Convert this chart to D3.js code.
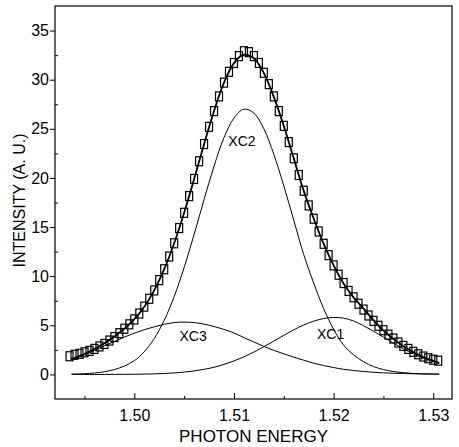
<!DOCTYPE html>
<html><head><meta charset="utf-8">
<script src="https://cdn.jsdelivr.net/npm/d3@7"></script>
<style>
body{margin:0;background:#fff;}
text{font-family:"Liberation Sans",Arial,sans-serif;fill:#000;}
</style></head>
<body><svg id="c" width="459" height="447"></svg>
<script>
// component grid (photon energy)
const compX = [1.4937,1.495,1.496,1.497,1.498,1.499,1.500,1.501,1.502,1.503,1.504,1.505,1.506,1.507,1.508,1.509,1.510,1.511,1.512,1.513,1.514,1.515,1.516,1.517,1.518,1.519,1.520,1.521,1.522,1.523,1.524,1.525,1.526,1.527,1.528,1.529,1.530,1.5306];
const xc1 = [0,0,0,0,0.01,0.01,0.02,0.035,0.06,0.1,0.15,0.24,0.35,0.52,0.73,1.02,1.37,1.79,2.28,2.82,3.40,3.98,4.54,5.03,5.42,5.69,5.8,5.73,5.44,4.96,4.4,3.8,3.2,2.6,2.1,1.65,1.3,1.1];
const xc2 = [0.03,0.08,0.15,0.27,0.5,0.85,1.4,2.31,3.65,5.51,7.93,10.89,14.25,17.8,21.2,24.1,26.1,27.0,26.6,25.0,22.4,19.2,15.7,12.2,9.3,6.7,4.6,3.0,2.0,1.3,0.8,0.5,0.3,0.18,0.1,0.06,0.04,0.03];
const xc3 = [1.55,2.0,2.45,2.9,3.35,3.8,4.2,4.55,4.85,5.1,5.28,5.33,5.28,5.12,4.88,4.58,4.22,3.75,3.3,2.85,2.45,2.1,1.75,1.45,1.15,0.9,0.7,0.52,0.4,0.3,0.22,0.16,0.12,0.09,0.07,0.05,0.04,0.03];
const fit = [1.58,2.08,2.60,3.17,3.86,4.66,5.62,6.90,8.56,10.71,13.36,16.46,19.88,23.44,26.81,29.70,31.69,32.54,32.18,30.67,28.25,25.28,21.99,18.68,15.87,13.29,11.10,9.25,7.84,6.70,5.52,4.46,3.62,2.87,2.27,1.76,1.38,1.16];
// measured data points
const dataX = [1.4935,1.4940,1.4945,1.4950,1.4955,1.4960,1.4965,1.4970,1.4975,1.4980,1.4985,1.4990,1.4995,1.5000,1.5005,1.5010,1.5015,1.5020,1.5025,1.5030,1.5035,1.5040,1.5045,1.5050,1.5055,1.5060,1.5065,1.5070,1.5075,1.5080,1.5085,1.5090,1.5095,1.5100,1.5105,1.5110,1.5115,1.5120,1.5125,1.5130,1.5135,1.5140,1.5145,1.5150,1.5155,1.5160,1.5165,1.5170,1.5175,1.5180,1.5185,1.5190,1.5195,1.5200,1.5205,1.5210,1.5215,1.5220,1.5225,1.5230,1.5235,1.5240,1.5245,1.5250,1.5255,1.5260,1.5265,1.5270,1.5275,1.5280,1.5285,1.5290,1.5295,1.5300,1.5305];
const dataY = [1.85,2.0,2.1,2.25,2.4,2.6,2.85,3.1,3.45,3.8,4.2,4.65,5.1,5.6,6.2,6.9,7.7,8.55,9.6,10.7,12.0,13.35,14.9,16.45,18.15,19.9,21.7,23.45,25.2,26.8,28.3,29.7,30.8,31.7,32.4,32.9,32.8,32.4,31.7,30.7,29.55,28.3,26.8,25.3,23.65,22.0,20.3,18.7,17.2,15.85,14.55,13.3,12.15,11.1,10.15,9.3,8.5,7.85,7.2,6.6,6.0,5.45,4.95,4.5,4.05,3.65,3.25,2.9,2.6,2.3,2.05,1.82,1.65,1.5,1.4];
const xTicks = [1.50,1.51,1.52,1.53];
const xMinor = [1.495,1.505,1.515,1.525];
const yTicks = [0,5,10,15,20,25,30,35];
const yMinor = [2.5,7.5,12.5,17.5,22.5,27.5,32.5];
const labels = [{t:"XC2",x:1.5108,y:23.2},{t:"XC3",x:1.5059,y:3.4},{t:"XC1",x:1.5197,y:3.6}];

const svg = d3.select("#c");
const L=55,T=6,R=452,B=399;
const x = d3.scaleLinear().domain([1.49204,1.53188]).range([L,R]);
const y = d3.scaleLinear().domain([-2.5,37.5]).range([B,T]);

// frame
svg.append("rect").attr("x",L).attr("y",T).attr("width",R-L).attr("height",B-T)
  .attr("fill","none").attr("stroke","#000").attr("stroke-width",1.2);

// x axis
const gx = svg.append("g").attr("transform",`translate(0,${B})`)
  .call(d3.axisBottom(x).tickValues(xTicks).tickFormat(d3.format(".2f")).tickSizeInner(-6).tickSizeOuter(0).tickPadding(11));
gx.select(".domain").remove();
gx.selectAll("text").attr("font-size",16).attr("font-family","Liberation Sans, Arial, sans-serif");
const gxm = svg.append("g").attr("transform",`translate(0,${B})`)
  .call(d3.axisBottom(x).tickValues(xMinor).tickFormat("").tickSizeInner(-3).tickSizeOuter(0));
gxm.select(".domain").remove();

// y axis
const gy = svg.append("g").attr("transform",`translate(${L},0)`)
  .call(d3.axisLeft(y).tickValues(yTicks).tickSizeInner(5).tickSizeOuter(0).tickPadding(1));
gy.select(".domain").remove();
gy.selectAll("text").attr("font-size",16).attr("font-family","Liberation Sans, Arial, sans-serif");
const gym = svg.append("g").attr("transform",`translate(${L},0)`)
  .call(d3.axisLeft(y).tickValues(yMinor).tickFormat("").tickSizeInner(-3).tickSizeOuter(0));
gym.select(".domain").remove();

// titles
svg.append("text").attr("x",(L+R)/2).attr("y",442).attr("text-anchor","middle")
  .attr("font-size",17).text("PHOTON ENERGY");
svg.append("text").attr("transform",`translate(25,${(T+B)/2-2}) rotate(-90)`).attr("text-anchor","middle")
  .attr("font-size",16).text("INTENSITY (A. U.)");

const line = d3.line().curve(d3.curveCatmullRom.alpha(0.5));
const comp = arr => line(compX.map((v,i)=>[x(v),y(arr[i])]));
[xc1,xc2,xc3].forEach(a=>{
  svg.append("path").attr("d",comp(a)).attr("fill","none").attr("stroke","#000").attr("stroke-width",1);
});

// data squares
const sw=7, sh=9;
svg.append("g").selectAll("rect").data(dataX).join("rect")
  .attr("x",(d)=>x(d)-sw/2).attr("y",(d,i)=>y(dataY[i])-sh/2)
  .attr("width",sw).attr("height",sh).attr("fill","none").attr("stroke","#000").attr("stroke-width",1.2);

// fit line
svg.append("path").attr("d",comp(fit)).attr("fill","none").attr("stroke","#000").attr("stroke-width",1.8);

svg.append("g").selectAll("text").data(labels).join("text")
  .attr("x",d=>x(d.x)).attr("y",d=>y(d.y)).attr("text-anchor","middle").attr("font-size",14).text(d=>d.t);
</script></body></html>
